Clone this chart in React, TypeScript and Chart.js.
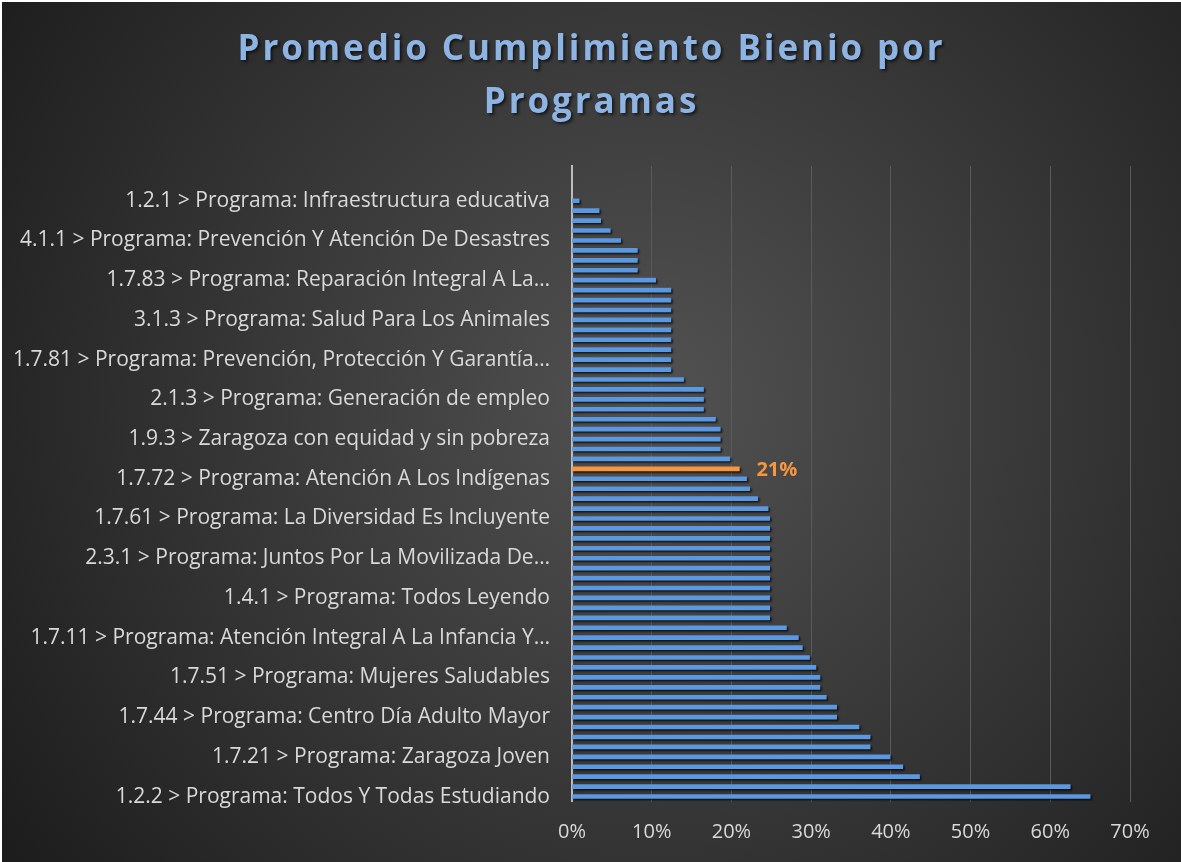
import React, { useEffect, useRef } from "react";
import { Chart, registerables } from "chart.js";

Chart.register(...registerables);

const TITLE_LINES = ["Promedio Cumplimiento Bienio por", "Programas"];

// Top-to-bottom order (3 empty categories at the top of the axis)
const CATEGORIES: string[] = [
  "", "", "",
  "1.2.1 > Programa: Infraestructura educativa", "", "", "",
  "4.1.1 > Programa: Prevención Y Atención De Desastres", "", "", "",
  "1.7.83 > Programa: Reparación Integral A La…", "", "", "",
  "3.1.3 > Programa: Salud Para Los Animales", "", "", "",
  "1.7.81 > Programa: Prevención, Protección Y Garantía…", "", "", "",
  "2.1.3 > Programa: Generación de empleo", "", "", "",
  "1.9.3 > Zaragoza con equidad y sin pobreza", "", "", "",
  "1.7.72 > Programa: Atención A Los Indígenas", "", "", "",
  "1.7.61 > Programa: La Diversidad Es Incluyente", "", "", "",
  "2.3.1 > Programa: Juntos Por La Movilizada De…", "", "", "",
  "1.4.1 > Programa: Todos Leyendo", "", "", "",
  "1.7.11 > Programa: Atención Integral A La Infancia Y…", "", "", "",
  "1.7.51 > Programa: Mujeres Saludables", "", "", "",
  "1.7.44 > Programa: Centro Día Adulto Mayor", "", "", "",
  "1.7.21 > Programa: Zaragoza Joven", "", "", "",
  "1.2.2 > Programa: Todos Y Todas Estudiando",
];

const VALUES: (number | null)[] = [
  null, null, null,
  0.9, 3.4, 3.6, 4.8, 6.1, 8.2, 8.2, 8.2, 10.5,
  12.4, 12.4, 12.4, 12.4, 12.4, 12.4, 12.4, 12.4, 12.4,
  14.0, 16.5, 16.5, 16.5, 18.0, 18.6, 18.6, 18.6, 19.8,
  21.0,
  21.9, 22.3, 23.3, 24.6,
  24.8, 24.8, 24.8, 24.8, 24.8, 24.8, 24.8, 24.8, 24.8, 24.8, 24.8,
  26.9, 28.4, 28.9, 29.8, 30.6, 31.1, 31.1, 31.9, 33.2, 33.2,
  36.0, 37.4, 37.4, 39.9, 41.5, 43.6, 62.5, 65.0,
];

const HIGHLIGHT_INDEX = 30;
const X_TICKS = [0, 10, 20, 30, 40, 50, 60, 70];

const BLUE = "#5a98e2";
const ORANGE = "#f7963f";
const TEXT = "#d9d9d9";
const FONT = "'Open Sans'";

export default function App() {
  const ref = useRef<HTMLCanvasElement>(null);

  useEffect(() => {
    document.body.style.margin = "0";
    document.body.style.background = "#ffffff";
    const canvas = ref.current!;

    const bgPlugin = {
      id: "bgPlugin",
      beforeDraw(chart: any) {
        const { ctx, width, height } = chart;
        const g = ctx.createRadialGradient(650, 400, 0, 650, 400, 780);
        g.addColorStop(0, "#525252");
        g.addColorStop(1, "#1d1d1d");
        ctx.save();
        ctx.fillStyle = g;
        ctx.fillRect(0, 0, width, height);
        ctx.restore();
      },
    };

    const titlePlugin = {
      id: "titlePlugin",
      afterDraw(chart: any) {
        const ctx = chart.ctx;
        ctx.save();
        ctx.font = `bold 35px ${FONT}`;
        (ctx as any).letterSpacing = "2.9px";
        ctx.textAlign = "center";
        ctx.textBaseline = "middle";
        ctx.fillStyle = "#8db4e3";
        ctx.shadowColor = "rgba(0,0,0,0.6)";
        ctx.shadowOffsetX = 2;
        ctx.shadowOffsetY = 2;
        ctx.shadowBlur = 3;
        const cx = chart.width / 2;
        ctx.fillText(TITLE_LINES[0], cx, 48);
        ctx.fillText(TITLE_LINES[1], cx, 101);
        ctx.restore();
      },
    };

    const barPlugin = {
      id: "barPlugin",
      beforeDatasetsDraw(chart: any) {
        const ctx = chart.ctx;
        ctx.save();
        ctx.shadowColor = "rgba(0,0,0,0.75)";
        ctx.shadowOffsetX = 1.5;
        ctx.shadowOffsetY = 1.5;
        ctx.shadowBlur = 2;
      },
      afterDatasetsDraw(chart: any) {
        const ctx = chart.ctx;
        ctx.restore();
        const el = chart.getDatasetMeta(0).data[HIGHLIGHT_INDEX];
        const v = VALUES[HIGHLIGHT_INDEX] as number;
        ctx.save();
        ctx.font = `bold 20px ${FONT}`;
        ctx.fillStyle = ORANGE;
        ctx.textAlign = "left";
        ctx.textBaseline = "middle";
        ctx.fillText(`${Math.round(v)}%`, el.x + 17, el.y + 1);
        ctx.restore();
      },
    };

    const chart = new Chart(canvas, {
      type: "bar",
      data: {
        labels: CATEGORIES,
        datasets: [
          {
            data: VALUES,
            backgroundColor: CATEGORIES.map((_, i) => (i === HIGHLIGHT_INDEX ? ORANGE : BLUE)),
            borderWidth: 0,
            barThickness: 4,
          },
        ],
      },
      options: {
        indexAxis: "y",
        responsive: false,
        animation: false,
        layout: { padding: { top: 164, right: 51, left: 0, bottom: 0 } },
        plugins: {
          legend: { display: false },
          title: { display: false },
          tooltip: { enabled: false },
        },
        scales: {
          x: {
            min: 0,
            max: 70,
            afterBuildTicks: (s: any) => {
              s.ticks = X_TICKS.map((v) => ({ value: v }));
            },
            ticks: {
              callback: (v: any) => `${v}%`,
              color: TEXT,
              font: { family: FONT, size: 20 },
              padding: 19,
              maxRotation: 0,
            },
            grid: { color: "#5a5a5a", drawTicks: false, lineWidth: 1 },
            border: { display: false },
            afterFit: (s: any) => {
              s.height = 60.5;
            },
          },
          y: {
            ticks: {
              autoSkip: false,
              color: TEXT,
              font: { family: FONT, size: 21 },
              padding: 22,
              callback: (_v: any, i: number) => CATEGORIES[i],
            },
            grid: { display: false, drawTicks: false },
            border: { display: true, color: "#bdbdbd", width: 2 },
            afterFit: (s: any) => {
              s.width = 570;
            },
          },
        },
      },
      plugins: [bgPlugin, titlePlugin, barPlugin],
    } as any);

    return () => chart.destroy();
  }, []);

  return (
    <div
      style={{
        width: 1181,
        height: 862,
        paddingTop: 2,
        paddingLeft: 2,
        boxSizing: "border-box",
        background: "#ffffff",
      }}
    >
      <canvas ref={ref} width={1179} height={860} style={{ display: "block", width: 1179, height: 860 }} />
    </div>
  );
}
